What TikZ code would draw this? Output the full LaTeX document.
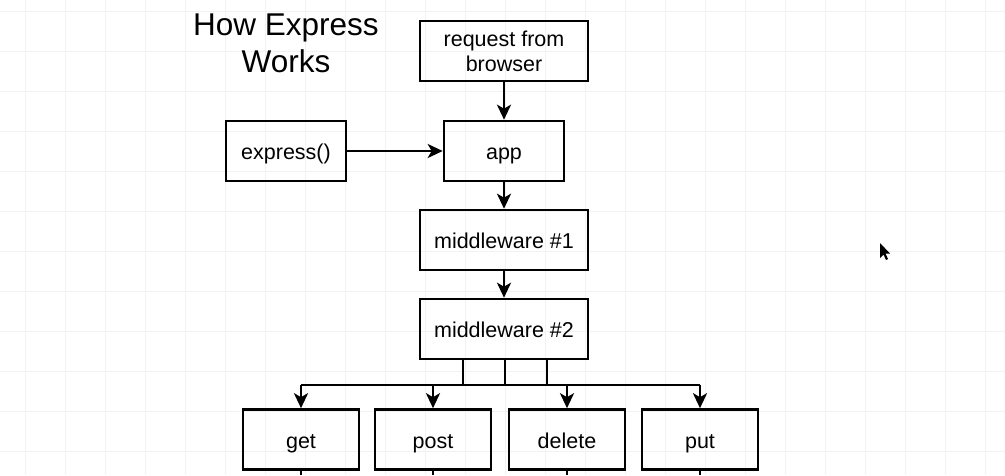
\documentclass[tikz,border=0pt]{standalone}
\usepackage{fontspec}
\setmainfont{Liberation Sans}
\usetikzlibrary{arrows.meta}

\begin{document}
\begin{tikzpicture}[x=1pt,y=-1pt,
  box/.style={draw,line width=2.6pt,minimum height=60pt,inner sep=0pt,
    font=\fontsize{21.5}{25}\selectfont,align=center},
  oneline/.style={box,text height=17pt,text depth=0pt},
  wide/.style={minimum width=168pt},
  mid/.style={oneline,minimum width=120pt},
  small/.style={oneline,minimum width=116pt},
  line/.style={line width=2.8pt},
  arrow/.style={line,-{Stealth[length=15pt,width=14pt,inset=4pt]}}]

% Page and grid
\useasboundingbox (0,0) rectangle (1005,475);
\fill[white] (0,0) rectangle (1005,475);
\foreach \x in {25.7,65.7,...,1005}
  \draw[black!5,line width=0.8pt] (\x,0)--(\x,475);
\foreach \y in {11.7,51.7,...,475}
  \draw[black!5,line width=0.8pt] (0,\y)--(1005,\y);

% Title
\node[anchor=base,inner sep=0pt] (title) at (286,35)
{\fontsize{31.5}{37}\selectfont\begin{tabular}[t]{@{}c@{}}How Express\\Works\end{tabular}};

% Request and app
\node[box,wide] (req) at (504,51)
{request from\\browser};

\node[mid] (app) at (504,151)
{app};

\node[mid] (express) at (286,151)
{express()};

% Middleware
\node[oneline,wide] (mw1) at (504,240)
{middleware \#1};

\node[oneline,wide] (mw2) at (504,329)
{middleware \#2};

% Routes
\node[small] (get) at (301,439.5)
{get};

\node[small] (post) at (433,439.5)
{post};

\node[small] (delete) at (567,439.5)
{delete};

\node[small] (put) at (700,439.5)
{put};

% Branch points
\coordinate (b1) at (463,385);
\coordinate (b2) at (505,385);
\coordinate (b3) at (547,385);
\coordinate (bottom) at (0,475);

% Connectors
\draw[arrow] (req) -- (app);
\draw[arrow] (express) -- (app);
\draw[arrow] (app) -- (mw1);
\draw[arrow] (mw1) -- (mw2);

\draw[line] (mw2.south -| b1) -- (b1);
\draw[line] (mw2.south -| b2) -- (b2);
\draw[line] (mw2.south -| b3) -- (b3);
\draw[line] (get.north |- b1) -- (put.north |- b1);

\foreach \r in {get,post,delete,put}{
  \draw[arrow] (\r.north |- b1) -- (\r);
  \draw[line] (\r) -- (\r.south |- bottom);
}

% Mouse pointer
\fill[black] (880,243) -- (880,258) -- (883.5,254.5) -- (886,260) -- (888,259)
  -- (885.5,253.5) -- (890,253.5) -- cycle;

\end{tikzpicture}
\end{document}
